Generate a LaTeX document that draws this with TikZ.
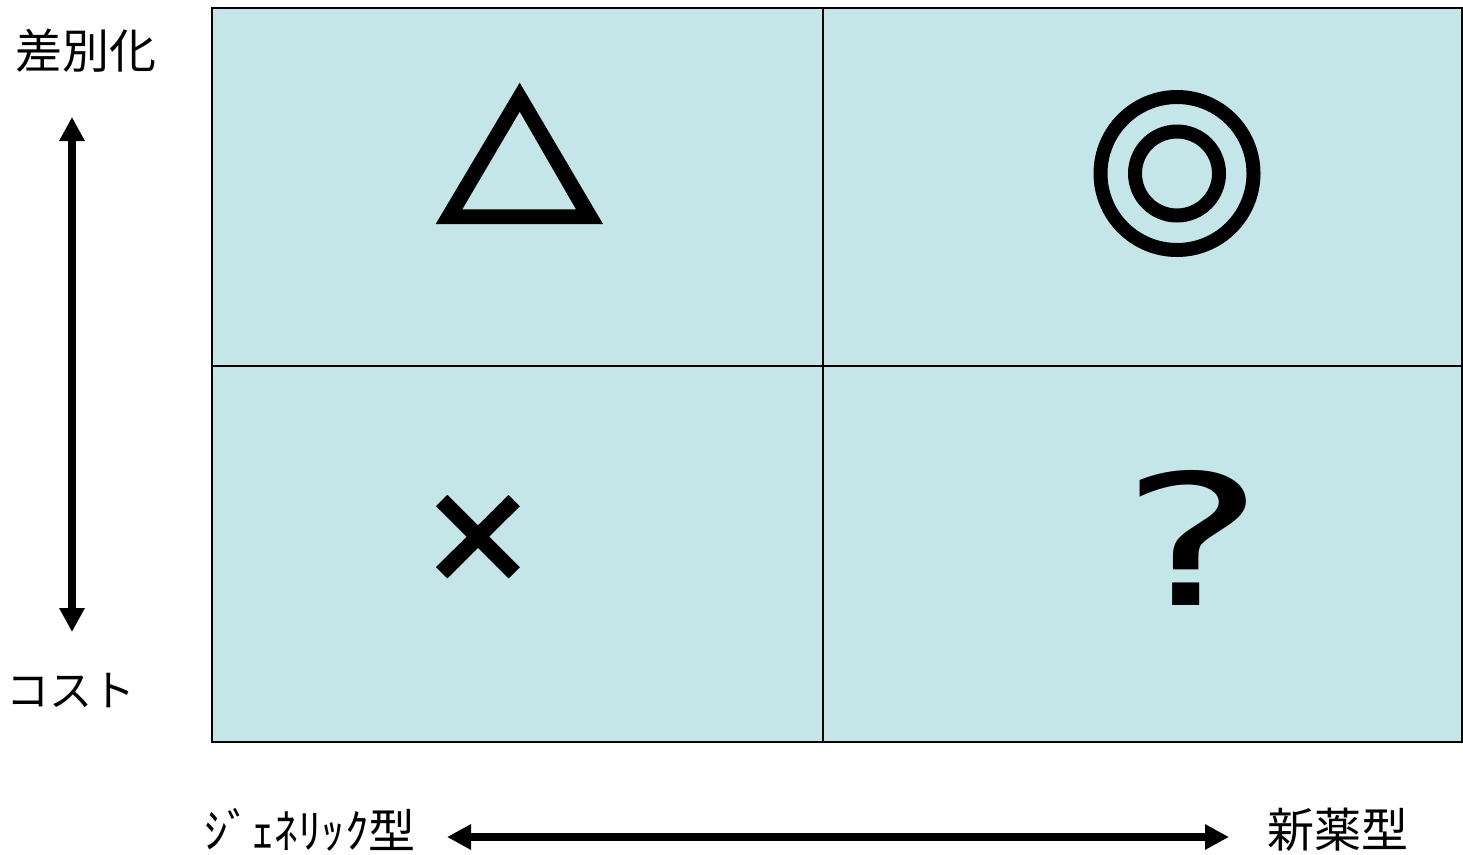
\documentclass[tikz,border=0pt]{standalone}
\usepackage{fontspec}
\setmainfont{Noto Sans CJK JP}
\newfontfamily\qfont{DejaVu Sans}
\usepackage{xcolor}
\usetikzlibrary{arrows.meta}
\definecolor{cellblue}{RGB}{196,230,232}

\begin{document}
\begin{tikzpicture}[x=1pt, y=-1pt,
  lbl/.style={inner sep=0pt, font=\fontsize{47}{56}\selectfont},
  grid/.style={draw=black, line width=1.4pt},
  axis/.style={{Triangle[length=24pt,width=24pt]}-{Triangle[length=24pt,width=24pt]}, line width=7.5pt},
  symb/.style={fill=black, even odd rule}]
\useasboundingbox (0,0) rectangle (1463,854);
% quadrants
\fill[cellblue] (212,8) rectangle (1462,742);
\draw[grid] (212,8) rectangle (1462,742);
\draw[grid] (823,8) -- (823,742);
\draw[grid] (212,366) -- (1462,366);
% axis labels
\node[lbl] (diff) at (86,51) {差別化};
\node[lbl, font=\fontsize{43}{52}\selectfont] (cost) at (71,690) {コスト};
\node[lbl] (gen) at (310,830) {ｼﾞｪﾈﾘｯｸ型};
\node[lbl] (new) at (1338,830) {新薬型};
\coordinate (vtop) at (72,117);
\coordinate (vbot) at (72,632);
\coordinate (hleft) at (447,837);
\coordinate (hright) at (1229,837);
\draw[axis] (vtop) -- (vbot);
\draw[axis] (hleft) -- (hright);
% symbols
\path[symb] (435.7,224) -- (519.7,82.7) -- (603,224) -- cycle
  (462.3,209.3) -- (519.7,111.7) -- (576,209.3) -- cycle;
\path[symb] (1177,173.5) circle (83.5) circle (69.5) circle (49) circle (35);
\draw[line width=16pt] (441.7,500.5) -- (514.2,572.8) (514.2,500.5) -- (441.7,572.8);
\node[inner sep=0pt, font=\qfont\fontsize{182}{190}\selectfont, xscale=1.5] (q) at (1193,538) {?};
\end{tikzpicture}
\end{document}
